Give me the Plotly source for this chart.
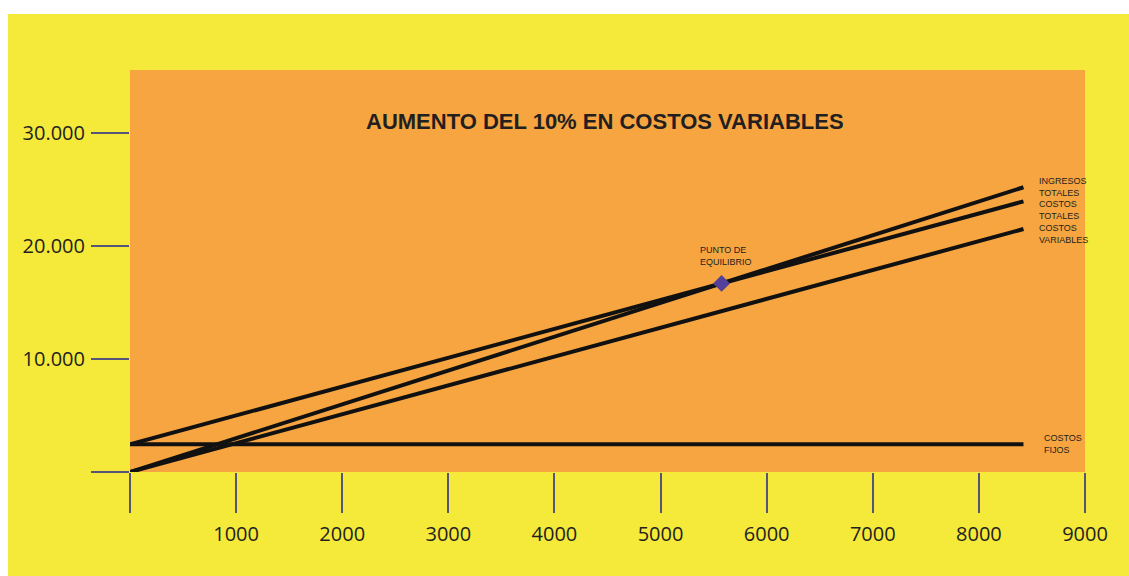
import plotly.graph_objects as go

# Break-even chart data (units sold vs. money)
unidades = [0, 8420]
ingresos_totales = [0, 25200]
costos_totales = [2450, 23950]
costos_variables = [0, 21500]
costos_fijos = [2450, 2450]

punto_equilibrio_x = [5575]
punto_equilibrio_y = [16690]

x_ticks = [0, 1000, 2000, 3000, 4000, 5000, 6000, 7000, 8000, 9000]
x_tick_text = ["", "1000", "2000", "3000", "4000", "5000", "6000", "7000", "8000", "9000"]
y_ticks = [0, 10000, 20000, 30000]
y_tick_text = ["", "10.000", "20.000", "30.000"]

titulo = "AUMENTO DEL 10% EN COSTOS VARIABLES"

W, H = 1129, 576
L, R, T, B = 130, 44, 70, 104
YELLOW = "#F5E93A"
ORANGE = "#F6A540"
TICK = "#55557a"
INK = "#231f20"

fig = go.Figure()

line_style = dict(color="#111111", width=4)
for serie in [ingresos_totales, costos_totales, costos_variables, costos_fijos]:
    fig.add_trace(go.Scatter(x=unidades, y=serie, mode="lines", line=line_style,
                             hoverinfo="skip", showlegend=False))

fig.add_trace(go.Scatter(x=punto_equilibrio_x, y=punto_equilibrio_y, mode="markers",
                         marker=dict(symbol="diamond", size=13, color="#52409a"),
                         showlegend=False))

label_font = dict(family="Liberation Sans Narrow, Liberation Sans, Arial", size=9, color=INK)
px_h = H - T - B
y_max = 35575
px_per_unit = px_h / y_max


def etiqueta(x, y, texto, dx=0, dy=0):
    fig.add_annotation(x=x, y=y, xref="x", yref="y", text=texto, showarrow=False,
                       xanchor="left", yanchor="middle", align="left", xshift=dx, yshift=dy,
                       font=label_font)


# Series labels stacked at the right end of the lines
etiqueta(unidades[-1], ingresos_totales[-1], "INGRESOS<br>TOTALES", dx=14, dy=0)
etiqueta(unidades[-1], costos_totales[-1], "COSTOS<br>TOTALES", dx=14, dy=-9)
etiqueta(unidades[-1], costos_variables[-1], "COSTOS<br>VARIABLES", dx=14, dy=-5)
etiqueta(unidades[-1], costos_fijos[-1], "COSTOS<br>FIJOS", dx=19)

fig.add_annotation(x=punto_equilibrio_x[0], y=punto_equilibrio_y[0], xref="x", yref="y",
                   text="PUNTO DE<br>EQUILIBRIO", showarrow=False, xanchor="left",
                   yanchor="bottom", align="left", xshift=-24, yshift=14, font=label_font)

fig.add_annotation(x=0.497, y=1.0, xref="paper", yref="paper", text="<b>" + titulo + "</b>",
                   showarrow=False, xanchor="center", yanchor="middle", yshift=-51,
                   font=dict(family="Liberation Sans, Arial", size=22, color=INK))

# White page edges around the yellow panel
px_w = W - L - R
fig.add_shape(type="rect", xref="paper", yref="paper",
              x0=-L / px_w - 0.01, x1=-(L - 8) / px_w, y0=-B / px_h - 0.05, y1=(px_h + T) / px_h + 0.05,
              fillcolor="white", line_width=0, layer="above")
fig.add_shape(type="rect", xref="paper", yref="paper",
              x0=-L / px_w - 0.01, x1=1 + R / px_w + 0.01, y0=(px_h + T - 14) / px_h, y1=(px_h + T) / px_h + 0.05,
              fillcolor="white", line_width=0, layer="above")

axis_font = dict(family="Open Sans, Liberation Sans", size=20, color=INK)

fig.update_xaxes(range=[0, 9000], tickvals=x_ticks, ticktext=x_tick_text,
                 ticks="outside", ticklen=40, tickwidth=2, tickcolor=TICK,
                 tickfont=axis_font, showgrid=False, zeroline=False, showline=False,
                 ticklabelstandoff=4, fixedrange=True)
fig.update_yaxes(range=[0, y_max], tickvals=y_ticks, ticktext=y_tick_text,
                 ticks="outside", ticklen=38, tickwidth=2, tickcolor=TICK,
                 tickfont=axis_font, showgrid=False, zeroline=False, showline=False,
                 ticklabelstandoff=2, fixedrange=True)

fig.update_layout(width=W, height=H, margin=dict(l=L, r=R, t=T, b=B, pad=0),
                  paper_bgcolor=YELLOW, plot_bgcolor=ORANGE, showlegend=False)

fig.write_html("out.html")
